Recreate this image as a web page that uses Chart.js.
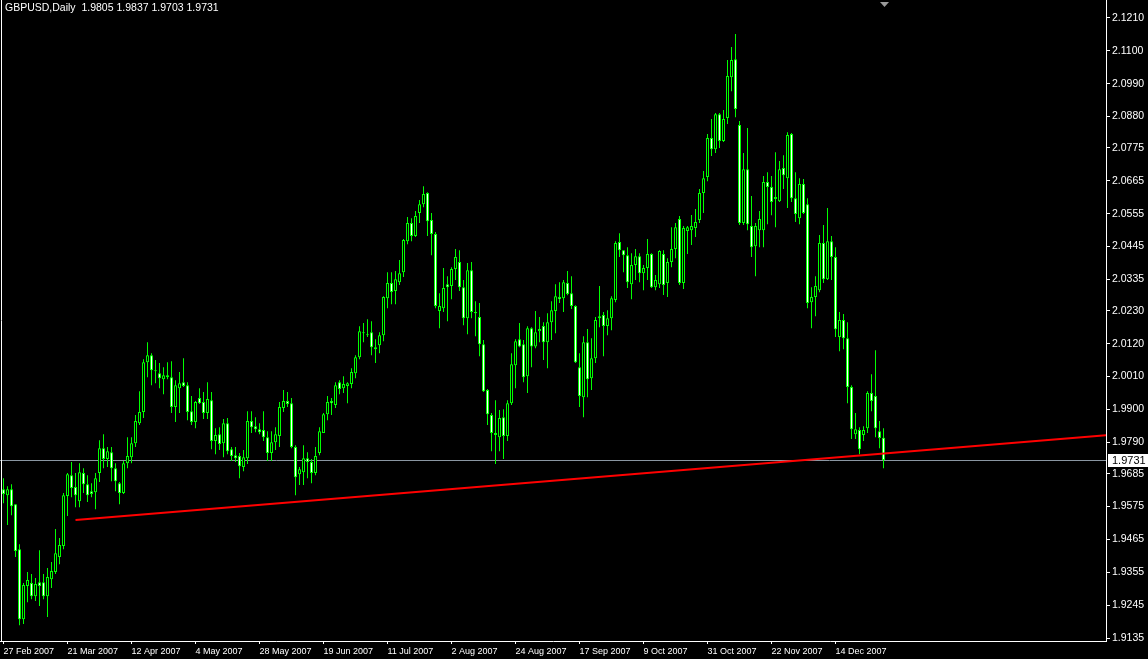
<!DOCTYPE html>
<html><head><meta charset="utf-8">
<script src="https://cdn.jsdelivr.net/npm/chart.js@4.4.1/dist/chart.umd.min.js"></script>
<style>html,body{margin:0;padding:0;background:#000;overflow:hidden}</style>
</head><body>
<canvas id="c" width="1148" height="659"></canvas>
<script>
const symbol = 'GBPUSD';
const timeframe = 'Daily';

const opens = [
1.9633,1.9613,1.9633,1.9583,1.9432,1.9198,1.9309,1.9319,1.9275,1.9322,
1.9322,1.9275,1.9332,1.9356,1.9406,1.9443,1.9610,1.9680,1.9640,1.9593,
1.9687,1.9650,1.9626,1.9623,1.9687,1.9770,1.9734,1.9757,1.9703,1.9653,
1.9620,1.9720,1.9740,1.9787,1.9854,1.9891,2.0058,2.0081,2.0031,2.0021,
2.0001,2.0008,2.0008,1.9908,1.9971,1.9991,1.9981,1.9894,1.9858,1.9938,
1.9925,1.9888,1.9931,1.9794,1.9817,1.9787,1.9854,1.9767,1.9747,1.9744,
1.9707,1.9737,1.9861,1.9844,1.9834,1.9831,1.9807,1.9754,1.9790,1.9811,
1.9905,1.9928,1.9921,1.9774,1.9683,1.9690,1.9737,1.9724,1.9687,1.9754,
1.9821,1.9884,1.9928,1.9915,1.9991,1.9971,1.9978,1.9985,2.0021,2.0075,
2.0155,2.0152,2.0158,2.0108,2.0115,2.0148,2.0272,2.0323,2.0296,2.0326,
2.0359,2.0463,2.0524,2.0480,2.0557,2.0587,2.0624,2.0534,2.0487,2.0229,
2.0239,2.0319,2.0313,2.0370,2.0393,2.0309,2.0205,2.0366,2.0226,2.0209,
2.0118,1.9965,1.9881,1.9821,1.9807,1.9874,1.9811,1.9921,2.0048,2.0135,
2.0118,2.0011,2.0172,2.0111,2.0162,2.0179,2.0125,2.0192,2.0229,2.0276,
2.0272,2.0323,2.0289,2.0246,2.0041,1.9941,2.0125,2.0004,2.0071,2.0205,
2.0216,2.0179,2.0205,2.0266,2.0460,2.0433,2.0416,2.0319,2.0383,2.0413,
2.0356,2.0373,2.0420,2.0309,2.0319,2.0420,2.0323,2.0393,2.0437,2.0537,
2.0323,2.0497,2.0500,2.0507,2.0534,2.0624,2.0678,2.0808,2.0771,2.0888,
2.0798,2.0875,2.1012,2.1072,2.0852,2.0524,2.0704,2.0514,2.0446,2.0500,
2.0500,2.0661,2.0644,2.0611,2.0597,2.0708,2.0674,2.0822,2.0607,2.0540,
2.0654,2.0587,2.0259,2.0276,2.0299,2.0457,2.0336,2.0463,2.0410,2.0142,
2.0199,2.0138,1.9975,1.9817,1.9831,1.9814,1.9837,1.9955,1.9945,1.9827,
1.9805];
const highs = [
1.9670,1.9643,1.9650,1.9583,1.9449,1.9319,1.9356,1.9349,1.9336,1.9429,
1.9349,1.9369,1.9389,1.9500,1.9470,1.9620,1.9687,1.9724,1.9687,1.9720,
1.9703,1.9680,1.9653,1.9687,1.9797,1.9817,1.9774,1.9774,1.9720,1.9657,
1.9727,1.9807,1.9807,1.9881,1.9961,2.0068,2.0125,2.0088,2.0065,2.0055,
2.0041,2.0058,2.0061,1.9998,2.0025,2.0071,1.9991,1.9945,1.9928,1.9971,
1.9958,1.9991,1.9958,1.9837,1.9840,1.9868,1.9871,1.9774,1.9774,1.9754,
1.9764,1.9894,1.9894,1.9874,1.9854,1.9894,1.9827,1.9827,1.9840,1.9925,
1.9965,1.9958,1.9938,1.9780,1.9707,1.9780,1.9757,1.9734,1.9774,1.9840,
1.9888,1.9945,1.9938,1.9991,1.9998,2.0011,1.9991,2.0038,2.0081,2.0178,
2.0189,2.0202,2.0195,2.0135,2.0158,2.0279,2.0359,2.0359,2.0363,2.0400,
2.0470,2.0544,2.0540,2.0564,2.0601,2.0647,2.0627,2.0557,2.0494,2.0289,
2.0373,2.0346,2.0376,2.0437,2.0433,2.0333,2.0390,2.0393,2.0262,2.0256,
2.0132,1.9968,1.9888,1.9931,1.9898,1.9901,1.9931,2.0088,2.0135,2.0189,
2.0132,2.0178,2.0175,2.0229,2.0209,2.0192,2.0222,2.0262,2.0319,2.0326,
2.0333,2.0363,2.0346,2.0249,2.0088,2.0145,2.0169,2.0138,2.0209,2.0313,
2.0226,2.0232,2.0279,2.0463,2.0490,2.0433,2.0443,2.0423,2.0437,2.0423,
2.0383,2.0470,2.0423,2.0350,2.0433,2.0433,2.0406,2.0510,2.0524,2.0547,
2.0514,2.0514,2.0551,2.0571,2.0638,2.0698,2.0822,2.0872,2.0892,2.0892,
2.0902,2.1069,2.1113,2.1156,2.0865,2.0758,2.0842,2.0614,2.0524,2.0564,
2.0681,2.0694,2.0681,2.0761,2.0731,2.0751,2.0828,2.0825,2.0694,2.0674,
2.0671,2.0607,2.0309,2.0346,2.0484,2.0517,2.0574,2.0480,2.0443,2.0226,
2.0219,2.0192,1.9981,1.9888,1.9840,1.9844,1.9961,2.0018,2.0098,1.9861,
1.9837];
const lows = [
1.9586,1.9513,1.9546,1.9406,1.9178,1.9182,1.9255,1.9265,1.9259,1.9242,
1.9265,1.9205,1.9302,1.9349,1.9382,1.9432,1.9543,1.9606,1.9573,1.9573,
1.9620,1.9590,1.9606,1.9566,1.9657,1.9703,1.9707,1.9660,1.9626,1.9583,
1.9617,1.9703,1.9720,1.9774,1.9848,1.9871,2.0008,1.9981,1.9988,1.9971,
1.9951,2.0001,1.9888,1.9858,1.9888,1.9975,1.9864,1.9848,1.9837,1.9918,
1.9868,1.9868,1.9767,1.9750,1.9764,1.9740,1.9750,1.9727,1.9724,1.9670,
1.9693,1.9717,1.9821,1.9824,1.9817,1.9794,1.9727,1.9727,1.9764,1.9774,
1.9891,1.9908,1.9770,1.9613,1.9647,1.9647,1.9670,1.9653,1.9680,1.9747,
1.9821,1.9864,1.9881,1.9905,1.9951,1.9955,1.9921,1.9971,2.0004,2.0068,
2.0125,2.0142,2.0081,2.0055,2.0088,2.0128,2.0239,2.0252,2.0252,2.0316,
2.0343,2.0453,2.0463,2.0477,2.0524,2.0577,2.0480,2.0416,2.0239,2.0172,
2.0226,2.0195,2.0269,2.0333,2.0296,2.0182,2.0152,2.0205,2.0145,2.0078,
1.9958,1.9848,1.9760,1.9717,1.9760,1.9734,1.9794,1.9915,1.9971,2.0108,
1.9991,1.9955,2.0041,2.0105,2.0125,2.0065,2.0038,2.0132,2.0155,2.0256,
2.0226,2.0282,2.0236,2.0055,1.9908,1.9874,1.9941,1.9965,2.0055,2.0175,
2.0078,2.0148,2.0165,2.0259,2.0410,2.0359,2.0306,2.0269,2.0333,2.0326,
2.0299,2.0333,2.0306,2.0299,2.0306,2.0283,2.0276,2.0376,2.0406,2.0316,
2.0303,2.0420,2.0450,2.0477,2.0524,2.0557,2.0664,2.0748,2.0758,2.0775,
2.0795,2.0855,2.0965,2.0878,2.0517,2.0517,2.0500,2.0410,2.0346,2.0443,
2.0443,2.0520,2.0550,2.0510,2.0594,2.0638,2.0574,2.0594,2.0527,2.0520,
2.0554,2.0239,2.0172,2.0212,2.0292,2.0323,2.0333,2.0333,2.0142,2.0095,
2.0101,1.9921,1.9801,1.9801,1.9750,1.9794,1.9821,1.9894,1.9807,1.9770,
1.9703];
const closes = [
1.9617,1.9633,1.9576,1.9426,1.9198,1.9312,1.9329,1.9275,1.9316,1.9309,
1.9275,1.9339,1.9359,1.9419,1.9446,1.9613,1.9683,1.9637,1.9613,1.9690,
1.9650,1.9613,1.9617,1.9670,1.9770,1.9734,1.9760,1.9703,1.9660,1.9620,
1.9720,1.9744,1.9787,1.9861,1.9891,2.0058,2.0081,2.0031,2.0028,2.0004,
2.0014,2.0014,1.9908,1.9981,1.9988,1.9978,1.9891,1.9858,1.9925,1.9921,
1.9888,1.9935,1.9794,1.9814,1.9784,1.9854,1.9760,1.9744,1.9737,1.9710,
1.9740,1.9861,1.9840,1.9834,1.9824,1.9807,1.9754,1.9790,1.9817,1.9908,
1.9928,1.9918,1.9774,1.9673,1.9700,1.9737,1.9724,1.9687,1.9744,1.9827,
1.9884,1.9925,1.9921,1.9981,1.9968,1.9985,1.9988,2.0025,2.0075,2.0162,
2.0158,2.0148,2.0108,2.0101,2.0148,2.0276,2.0323,2.0293,2.0336,2.0356,
2.0467,2.0524,2.0480,2.0547,2.0587,2.0621,2.0530,2.0487,2.0246,2.0246,
2.0306,2.0309,2.0370,2.0410,2.0309,2.0205,2.0366,2.0226,2.0222,2.0118,
1.9961,1.9884,1.9821,1.9814,1.9871,1.9811,1.9921,2.0051,2.0128,2.0111,
2.0008,2.0172,2.0111,2.0158,2.0169,2.0125,2.0192,2.0232,2.0279,2.0269,
2.0326,2.0286,2.0246,2.0058,1.9945,2.0125,2.0001,2.0071,2.0199,2.0212,
2.0179,2.0205,2.0272,2.0457,2.0433,2.0416,2.0326,2.0383,2.0413,2.0356,
2.0373,2.0420,2.0309,2.0333,2.0430,2.0316,2.0393,2.0437,2.0510,2.0323,
2.0507,2.0510,2.0514,2.0527,2.0624,2.0674,2.0808,2.0771,2.0888,2.0798,
2.0872,2.1016,2.1069,2.0905,2.0524,2.0704,2.0520,2.0443,2.0514,2.0537,
2.0661,2.0644,2.0594,2.0604,2.0704,2.0684,2.0818,2.0607,2.0554,2.0654,
2.0557,2.0256,2.0276,2.0313,2.0457,2.0336,2.0463,2.0410,2.0168,2.0199,
2.0138,1.9975,1.9834,1.9834,1.9767,1.9831,1.9955,1.9928,1.9837,1.9804,
1.9731];

const dateTickIndex = [0,16,32,48,64,80,96,112,128,144,160,176,192,208];
const dateTickLabels = ['27 Feb 2007','21 Mar 2007','12 Apr 2007','4 May 2007','28 May 2007','19 Jun 2007','11 Jul 2007','2 Aug 2007','24 Aug 2007','17 Sep 2007','9 Oct 2007','31 Oct 2007','22 Nov 2007','14 Dec 2007'];
const priceTicks = [2.1210,2.1100,2.0990,2.0880,2.0775,2.0665,2.0555,2.0445,2.0335,2.0230,2.0120,2.0010,1.9900,1.9790,1.9685,1.9575,1.9465,1.9355,1.9245,1.9135];

const trendIndex = [18, 275.625];
const trendPrice = [1.9530, 1.9814];

const priceMin = 1.91250, priceMax = 2.12702;
const indexMin = -0.875, indexMax = 275.625;

const GREEN = '#00ff00';
const FONT = '"Liberation Sans", Arial, sans-serif';

const idx = opens.map((_, i) => i);
const last = opens.length - 1;
const wickData = idx.map(i => ({x: i, y: [lows[i], highs[i]]}));
const bodyData = idx.map(i => ({x: i, y: [opens[i], closes[i]]}));
const bodyFill = idx.map(i => closes[i] >= opens[i] ? '#000000' : '#ffffff');

const decor = {
  id: 'decor',
  beforeDraw(chart) {
    const c = chart.ctx;
    c.save(); c.fillStyle = '#000'; c.fillRect(0, 0, chart.width, chart.height); c.restore();
  },
  beforeDatasetsDraw(chart) {
    const c = chart.ctx, a = chart.chartArea, y = Math.round(chart.scales.y.getPixelForValue(closes[last])) + 0.5;
    c.save(); c.strokeStyle = '#8a96a2'; c.lineWidth = 1;
    c.beginPath(); c.moveTo(a.left, y); c.lineTo(a.right, y); c.stroke(); c.restore();
  },
  afterDraw(chart) {
    const c = chart.ctx, a = chart.chartArea;
    const ys = chart.scales.y, xs = chart.scales.x;
    c.save();
    c.strokeStyle = '#ffffff'; c.lineWidth = 1;
    c.beginPath(); c.moveTo(1.5, a.top); c.lineTo(1.5, a.bottom); c.stroke();
    c.fillStyle = '#ffffff'; c.font = '10.5px ' + FONT; c.textBaseline = 'middle'; c.textAlign = 'left';
    const f = v => v.toFixed(4);
    c.fillText(symbol + ',' + timeframe + '  ' + f(opens[last]) + ' ' + f(highs[last]) + ' ' + f(lows[last]) + ' ' + f(closes[last]), 5, 8);
    const by = Math.round(ys.getPixelForValue(closes[last]));
    c.fillStyle = '#ffffff'; c.fillRect(a.right + 2, by - 6, 40, 13);
    c.fillStyle = '#000000'; c.font = '11px ' + FONT;
    c.fillText(f(closes[last]), a.right + 6, by + 1);
    const sx = Math.round(xs.getPixelForValue(last));
    c.fillStyle = '#9a9a9a';
    c.beginPath(); c.moveTo(sx - 4, 2); c.lineTo(sx + 5, 2); c.lineTo(sx + 0.5, 7); c.closePath(); c.fill();
    c.restore();
  }
};

new Chart(document.getElementById('c'), {
  type: 'bar',
  data: {
    datasets: [
      {type: 'line', data: trendIndex.map((x, j) => ({x, y: trendPrice[j]})), borderColor: '#ff0000', borderWidth: 2, pointRadius: 0, order: 0},
      {type: 'bar', data: bodyData, barThickness: 3, grouped: false, borderWidth: 1, borderColor: GREEN, borderSkipped: false, backgroundColor: bodyFill, minBarLength: 1, inflateAmount: 0, order: 1},
      {type: 'bar', data: wickData, barThickness: 1, grouped: false, borderWidth: 0, backgroundColor: GREEN, inflateAmount: 0, order: 2}
    ]
  },
  options: {
    responsive: false, animation: false, devicePixelRatio: 1,
    layout: {padding: 0},
    plugins: {legend: {display: false}, tooltip: {enabled: false}, title: {display: false}},
    scales: {
      x: {
        type: 'linear', min: indexMin, max: indexMax, offset: false, position: 'bottom',
        afterBuildTicks: s => { s.ticks = dateTickIndex.map(v => ({value: v})); },
        afterFit: s => { s.height = 18; s.paddingLeft = 0; s.paddingRight = 0; },
        ticks: {align: 'start', autoSkip: false, maxRotation: 0, minRotation: 0, color: '#ffffff', padding: 2,
          font: {family: FONT, size: 9}, callback: (v, i) => dateTickLabels[i]},
        grid: {drawOnChartArea: false, drawTicks: true, tickLength: 3, color: '#ffffff', offset: false},
        border: {display: true, color: '#ffffff', width: 1}
      },
      y: {
        type: 'linear', position: 'right', min: priceMin, max: priceMax,
        afterBuildTicks: s => { s.ticks = priceTicks.map(v => ({value: v})); },
        afterFit: s => { s.width = 42; s.paddingTop = 0; s.paddingBottom = 0; },
        ticks: {autoSkip: false, color: '#ffffff', padding: 2, font: {family: FONT, size: 10.5}, callback: v => v.toFixed(4)},
        grid: {drawOnChartArea: false, drawTicks: true, tickLength: 4, color: '#ffffff'},
        border: {display: true, color: '#ffffff', width: 1}
      }
    }
  },
  plugins: [decor]
});
</script>
</body></html>
